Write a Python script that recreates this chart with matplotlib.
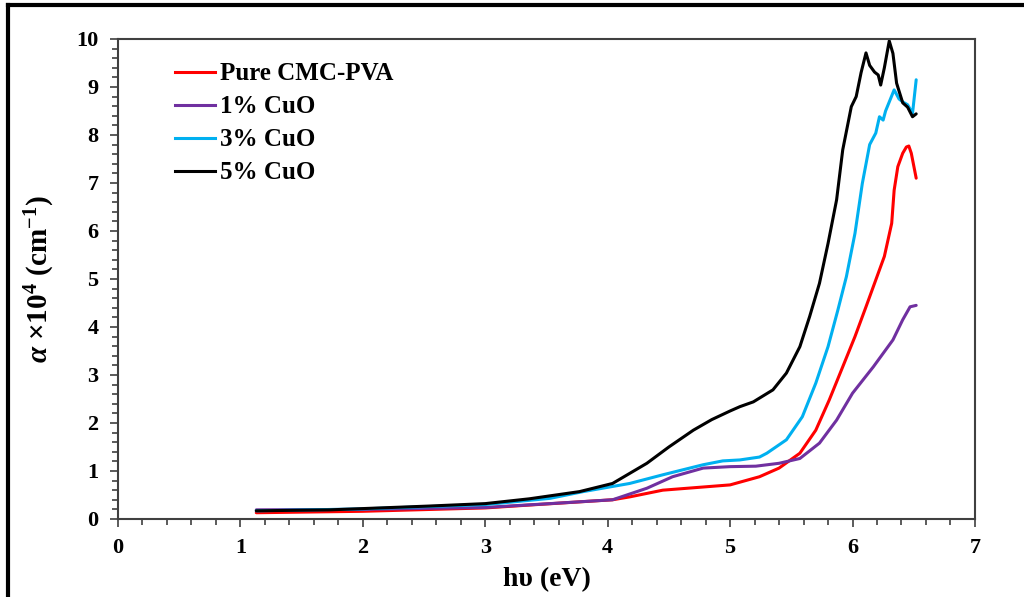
import numpy as np
import matplotlib.pyplot as plt
from matplotlib.lines import Line2D
from matplotlib.ticker import MultipleLocator

plt.rcParams['font.family'] = ['Liberation Serif', 'DejaVu Serif']
plt.rcParams['font.weight'] = 'bold'
plt.rcParams['mathtext.fontset'] = 'custom'
plt.rcParams['mathtext.rm'] = 'Liberation Serif:bold'
plt.rcParams['mathtext.it'] = 'Liberation Serif:italic:bold'
plt.rcParams['mathtext.bf'] = 'Liberation Serif:bold'

# photon energy (eV) and absorption coefficient (x10^4 cm^-1)
x_pure = [1.13, 2.0, 3.0, 3.36, 4.04, 4.18, 4.45, 5.0, 5.24, 5.40, 5.57, 5.70, 5.81,
          5.92, 6.02, 6.11, 6.19, 6.26, 6.32, 6.34, 6.37, 6.41, 6.44, 6.46, 6.48, 6.52]
y_pure = [0.13, 0.16, 0.23, 0.29, 0.40, 0.46, 0.60, 0.71, 0.88, 1.06, 1.37, 1.85, 2.48,
          3.17, 3.80, 4.42, 4.98, 5.47, 6.16, 6.85, 7.34, 7.62, 7.75, 7.77, 7.62, 7.10]

x_cu1 = [1.13, 2.0, 3.0, 3.53, 4.04, 4.32, 4.53, 4.78, 5.0, 5.21, 5.40, 5.57, 5.73,
         5.87, 6.0, 6.17, 6.33, 6.41, 6.47, 6.52]
y_cu1 = [0.19, 0.20, 0.24, 0.32, 0.40, 0.64, 0.88, 1.06, 1.09, 1.10, 1.16, 1.26, 1.58,
         2.06, 2.62, 3.17, 3.73, 4.15, 4.42, 4.45]

x_cu3 = [1.13, 2.0, 3.0, 3.53, 3.8, 4.18, 4.45, 4.78, 4.94, 5.08, 5.24, 5.30, 5.46,
         5.59, 5.70, 5.80, 5.88, 5.95, 6.02, 6.08, 6.14, 6.19, 6.22, 6.25, 6.27, 6.34,
         6.38, 6.41, 6.45, 6.49, 6.52]
y_cu3 = [0.17, 0.21, 0.30, 0.43, 0.57, 0.74, 0.92, 1.13, 1.21, 1.23, 1.29, 1.37, 1.65,
         2.13, 2.83, 3.59, 4.35, 5.05, 5.95, 6.99, 7.80, 8.04, 8.38, 8.31, 8.50, 8.94,
         8.75, 8.69, 8.63, 8.45, 9.15]

x_cu5 = [1.13, 1.73, 2.55, 3.0, 3.36, 3.77, 4.04, 4.32, 4.5, 4.7, 4.85, 5.0, 5.08,
         5.19, 5.35, 5.46, 5.57, 5.65, 5.73, 5.80, 5.87, 5.92, 5.99, 6.03, 6.07, 6.11,
         6.14, 6.18, 6.21, 6.23, 6.26, 6.30, 6.33, 6.36, 6.41, 6.45, 6.49, 6.52]
y_cu5 = [0.17, 0.19, 0.27, 0.32, 0.42, 0.57, 0.74, 1.16, 1.50, 1.85, 2.07, 2.25, 2.34,
         2.44, 2.69, 3.04, 3.59, 4.22, 4.91, 5.74, 6.65, 7.69, 8.59, 8.80, 9.30, 9.71,
         9.45, 9.31, 9.25, 9.04, 9.40, 9.96, 9.70, 9.08, 8.67, 8.58, 8.38, 8.44]

labels = ['Pure CMC-PVA', '1% CuO', '3% CuO', '5% CuO']
colors = ['#ff0000', '#7030a0', '#00b0f0', '#000000']

fig = plt.figure(figsize=(10.24, 5.97), dpi=100)
ax = fig.add_axes([0.1152, 0.1307, 0.8369, 0.804])

series = [(x_pure, y_pure), (x_cu1, y_cu1), (x_cu3, y_cu3), (x_cu5, y_cu5)]
for (xs, ys), c, lab in zip(series, colors, labels):
    ax.plot(xs, ys, color=c, lw=2.2, label=lab, solid_joinstyle='round',
            solid_capstyle='round')

ax.set_xlim(0, 7)
ax.set_ylim(0, 10)
ax.xaxis.set_major_locator(MultipleLocator(1))
ax.xaxis.set_minor_locator(MultipleLocator(0.2))
ax.yaxis.set_major_locator(MultipleLocator(1))
ax.yaxis.set_minor_locator(MultipleLocator(0.2))
ax.tick_params(which='major', direction='out', length=6, width=1.2, color='#404040',
               labelsize=16, pad=8)
ax.tick_params(which='minor', direction='out', length=4, width=1.2, color='#404040')
for lab in ax.get_xticklabels() + ax.get_yticklabels():
    lab.set_fontweight('bold')
for sp in ax.spines.values():
    sp.set_color('#404040')
    sp.set_linewidth(1.5)

ax.set_xlabel('h\u03c5 (eV)', fontsize=20, fontweight='bold', labelpad=6)
ax.set_ylabel('$\\alpha$ \u00d710$^4$ (cm$^{-1}$)', fontsize=21, fontweight='bold',
              labelpad=14)

handles = [Line2D([], [], color=c, lw=2.2) for c in colors]
leg = ax.legend(handles, labels, loc='upper left', bbox_to_anchor=(0.04, 0.998),
                frameon=False, handlelength=1.6, handletextpad=0.2, labelspacing=0.4,
                prop={'family': 'Liberation Serif', 'weight': 'bold', 'size': 18})

# outer frame (left and top edges)
fig.add_artist(Line2D([0.008, 0.008], [0.0, 0.992], transform=fig.transFigure,
                      color='black', lw=3))
fig.add_artist(Line2D([0.008, 1.0], [0.992, 0.992], transform=fig.transFigure,
                      color='black', lw=3))

fig.savefig('out.png', dpi=100)
